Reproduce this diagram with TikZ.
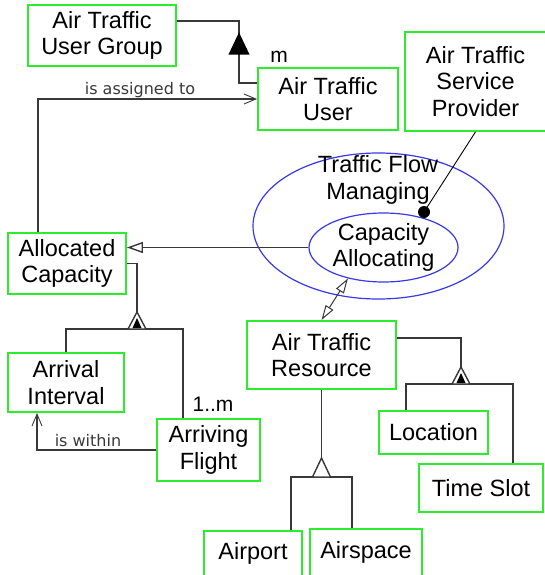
\documentclass[tikz,border=0pt]{standalone}
\usepackage{fontspec}
\setmainfont{Liberation Sans}
\newfontfamily\rolefont{DejaVu Sans}
\usetikzlibrary{shapes.geometric,arrows.meta}
\definecolor{classgreen}{RGB}{45,235,45}
\definecolor{procblue}{RGB}{55,55,235}
\definecolor{linkgray}{gray}{0.22}

\begin{document}
\begin{tikzpicture}[x=1pt, y=-1pt,
    class/.style={draw=classgreen, line width=1.8pt, fill=white, align=center, inner sep=0pt,
        font=\fontsize{23.5}{26.5}\selectfont},
    proc/.style={draw=procblue, line width=1.2pt, ellipse, inner sep=0pt, align=center,
        font=\fontsize{23.5}{26.5}\selectfont},
    link/.style={draw=linkgray, line width=1.4pt},
    role/.style={font=\rolefont\fontsize{16}{18}\selectfont, text=linkgray},
    mult/.style={font=\fontsize{21}{22}\selectfont},
    navig/.style={-{Straight Barb[length=12pt, width=10pt, line width=0.9pt]}},
    twoway/.style={{Triangle[open, length=15pt, width=9pt]}-{Triangle[open, length=15pt, width=9pt]}}]
    \useasboundingbox (0,0) rectangle (545,575);
    \clip (0,0) rectangle (545,575);

    % classes
    \node[class, minimum width=148pt, minimum height=61pt] (usergroup) at (102,35.5) {Air Traffic\\User Group};
    \node[class, minimum width=140pt, minimum height=62pt] (user) at (328,99) {Air Traffic\\User};
    \node[class, minimum width=141pt, minimum height=99pt] (provider) at (475.5,81.5) {Air Traffic\\Service\\Provider};
    \node[class, minimum width=118pt, minimum height=61pt] (alloccap) at (67,263.5) {Allocated\\Capacity};
    \node[class, minimum width=116pt, minimum height=59pt] (arrinterval) at (66,382.5) {Arrival\\Interval};
    \node[class, minimum width=103pt, minimum height=62pt] (arrflight) at (208.5,450) {Arriving\\Flight};
    \node[class, minimum width=149pt, minimum height=68pt] (resource) at (321.5,355) {Air Traffic\\Resource};
    \node[class, minimum width=109pt, minimum height=43pt] (location) at (433.5,432.5) {Location};
    \node[class, minimum width=124pt, minimum height=48pt] (timeslot) at (481,488) {Time Slot};
    \node[class, minimum width=98pt, minimum height=45pt] (airport) at (253,553.5) {Airport};
    \node[class, minimum width=112pt, minimum height=47pt] (airspace) at (366,552.5) {Airspace};

    % processes
    \node[proc, minimum width=251pt, minimum height=146pt] (tfm) at (378.5,226) {};
    \node[font=\fontsize{23.5}{26.5}\selectfont, align=center] (tfmname) at (378,180) {Traffic Flow\\Managing};
    \node[proc, minimum width=149pt, minimum height=69pt] (capalloc) at (383.5,247.5) {Capacity\\Allocating};

    \coordinate (grpTip) at (239,34);
    \coordinate (grpBase) at (239,54);
    \coordinate (capTip) at (137,312);
    \coordinate (capBase) at (137,329);
    \coordinate (resTip) at (461,367);
    \coordinate (resBase) at (461,384);
    \coordinate (kindTip) at (321.5,458);
    \coordinate (kindBase) at (321.5,477);
    \coordinate (tfmDot) at (424,212);

    % user group
    \draw[link] ([yshift=14.5pt]usergroup.east) -| (grpTip);
    \draw[link] (grpBase) |- ([yshift=16pt]user.west);
    \filldraw[link, draw=black, fill=black] (grpTip) -- ++(-9.5,20) -- ++(19,0) -- cycle;
    \node[mult] (grpmult) at (279,57) {m};

    % associations
    \draw[link, navig] ([xshift=-29pt]alloccap.north) |- (user.west);
    \node[role] (assignlabel) at (140,90) {is assigned to};
    \draw[link, navig] (arrflight.west) -| ([xshift=-29pt]arrinterval.south);
    \node[role] (withinlabel) at (88,441) {is within};
    \node[mult] (flightmult) at (213,404) {1..m};

    \draw[link, -{Triangle[open, length=16pt, width=11pt]}] (capalloc.west) -- (alloccap.east |- capalloc.west);
    \draw[link, line width=1pt, twoway] (capalloc.221) -- (resource.north);
    \draw[black, line width=0.9pt] (provider.south) -- (tfmDot);
    \fill (tfmDot) circle (6pt);

    % whole-part
    \draw[link] (alloccap.east) -| (capTip);
    \draw[link] (arrinterval.north) |- (capBase) -| ([xshift=-25.5pt]arrflight.north);
    \draw[link] ([yshift=17pt]resource.east) -| (resTip);
    \draw[link] ([xshift=-27.5pt]location.north) |- (resBase) -| ([xshift=32pt]timeslot.north);
    \foreach \t in {capTip,resTip} {
        \draw[link, fill=white] (\t) -- ++(-9,17) -- ++(18,0) -- cycle;
        \fill[black] ([yshift=-6pt]\t) -- ++(-4.5,10) -- ++(9,0) -- cycle;
    }

    % kinds of resource
    \draw[link] (resource.south) -- (kindTip);
    \draw[link] ([xshift=38pt]airport.north) |- (kindBase) -| ([xshift=-14pt]airspace.north);
    \draw[link, fill=white] (kindTip) -- ++(-9,19) -- ++(18,0) -- cycle;
\end{tikzpicture}
\end{document}
